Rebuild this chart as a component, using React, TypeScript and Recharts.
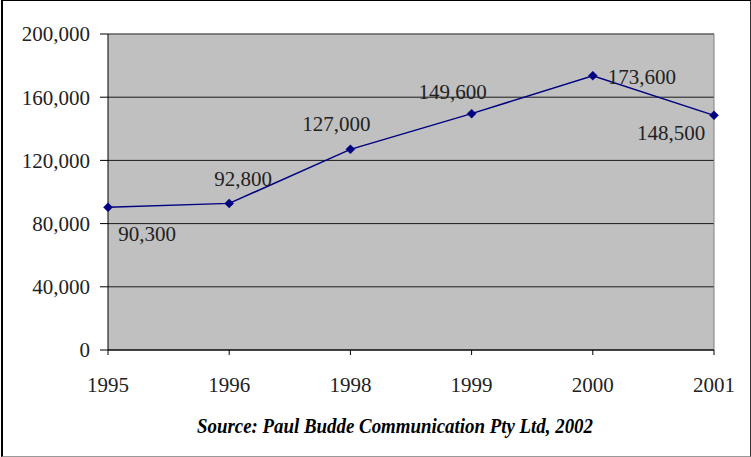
import React from "react";
import {
  LineChart,
  Line,
  XAxis,
  YAxis,
  CartesianGrid,
  ReferenceLine,
  LabelList,
  Customized,
} from "recharts";

// Years on the category axis and subscriber counts for each year
const years = ["1995", "1996", "1998", "1999", "2000", "2001"];
const subscribers = [90300, 92800, 127000, 149600, 173600, 148500];
const yTicks = [0, 40000, 80000, 120000, 160000, 200000];
const sourceNote = "Source: Paul Budde Communication Pty Ltd, 2002";

// Where each value label sits relative to its marker (dx, dy)
const labelOffsets: [number, number][] = [
  [39, 27],
  [14, -24],
  [-14, -25],
  [-19, -22],
  [49, 1],
  [-43, 18],
];

const data = years.map((year, i) => ({ year, value: subscribers[i] }));

const FONT = "'Liberation Serif', 'Times New Roman', serif";
const TEXT = "#222";
const fmt = (v: number) => v.toLocaleString("en-US");

const Diamond = (props: any) => {
  const { cx, cy } = props;
  if (cx == null || cy == null) return null;
  const r = 4.5;
  return (
    <path
      d={`M${cx},${cy - r}L${cx + r},${cy}L${cx},${cy + r}L${cx - r},${cy}Z`}
      fill="#000080"
      stroke="#000080"
      strokeWidth={0.5}
    />
  );
};

const ValueLabel = (props: any) => {
  const { x, y, value, index } = props;
  const [dx, dy] = labelOffsets[index] || [0, 0];
  return (
    <text
      x={x + dx}
      y={y + dy}
      textAnchor="middle"
      dominantBaseline="central"
      fontFamily={FONT}
      fontSize={21}
      fill={TEXT}
    >
      {fmt(value)}
    </text>
  );
};

const SourceNote = () => (
  <text
    x={395}
    y={433}
    textAnchor="middle"
    fontFamily={FONT}
    fontStyle="italic"
    fontWeight="bold"
    fontSize={22}
    fill="#000"
    textLength={396}
    lengthAdjust="spacingAndGlyphs"
  >
    {sourceNote}
  </text>
);

export default function App() {
  return (
    <div
      style={{
        position: "absolute",
        left: 0,
        top: 0,
        width: 751,
        height: 457,
        background: "#fff",
      }}
    >
      <div
        style={{
          position: "absolute",
          left: 1,
          top: 0,
          width: 747,
          height: 455,
          borderTop: "1px solid #000",
          borderLeft: "2px solid #000",
          borderRight: "1px solid #333",
          borderBottom: "1px solid #999",
        }}
      />
      <div style={{ position: "absolute", left: 0, top: 0 }}>
        <LineChart
          width={751}
          height={457}
          data={data}
          margin={{ top: 34, right: 37, bottom: 77, left: 0 }}
        >
          <CartesianGrid
            vertical={false}
            fill="#C0C0C0"
            stroke="#1a1a1a"
            strokeWidth={1}
          />
          <ReferenceLine y={200000} stroke="#808080" strokeWidth={1} />
          <ReferenceLine x="2001" stroke="#808080" strokeWidth={1} />
          <XAxis
            dataKey="year"
            height={30}
            tickSize={5}
            tickMargin={22}
            axisLine={{ stroke: "#000" }}
            tickLine={{ stroke: "#000" }}
            tick={{ fontFamily: FONT, fontSize: 21, fill: TEXT }}
            interval={0}
          />
          <YAxis
            width={108}
            domain={[0, 200000]}
            ticks={yTicks}
            tickFormatter={fmt}
            tickSize={8}
            tickMargin={10}
            axisLine={{ stroke: "#000" }}
            tickLine={{ stroke: "#000" }}
            tick={{ fontFamily: FONT, fontSize: 21, fill: TEXT }}
            interval={0}
          />
          <Line
            type="linear"
            dataKey="value"
            stroke="#000080"
            strokeWidth={1.5}
            dot={<Diamond />}
            activeDot={false}
            isAnimationActive={false}
          >
            <LabelList dataKey="value" content={<ValueLabel />} />
          </Line>
          <Customized component={SourceNote} />
        </LineChart>
      </div>
    </div>
  );
}
